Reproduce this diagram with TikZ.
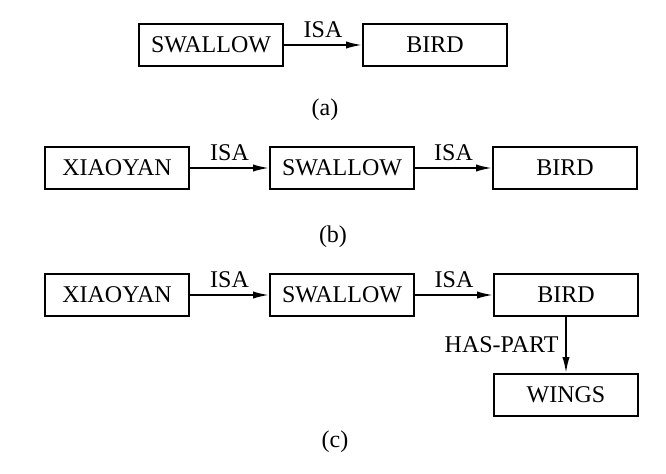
\documentclass[tikz,border=0pt]{standalone}
\usepackage{fontspec}
\setmainfont{Liberation Serif}
\usetikzlibrary{arrows.meta}

\begin{document}
\begin{tikzpicture}[x=0.5pt,y=-0.5pt,font=\fontsize{12}{14}\selectfont,
  box/.style={draw,line width=0.9pt,minimum width=72pt,minimum height=21pt,inner sep=0pt},
  isa/.style={line width=0.9pt,-{Latex[length=8pt,width=3.6pt]}}]
\useasboundingbox (0,0) rectangle (666,473);
% (a)
\node[box] (sa) at (211,45) {SWALLOW};
\node[box] (ba) at (435,45) {BIRD};
\draw[isa] (sa) -- (ba) node[midway,above,inner sep=3pt] {ISA};
\node (la) at (325,110) {(a)};
% (b)
\node[box] (xb) at (117,168) {XIAOYAN};
\node[box] (sb) at (342,168) {SWALLOW};
\node[box] (bb) at (565,168) {BIRD};
\draw[isa] (xb) -- (sb) node[midway,above,inner sep=3pt] {ISA};
\draw[isa] (sb) -- (bb) node[midway,above,inner sep=3pt] {ISA};
\node (lb) at (333,237) {(b)};
% (c)
\node[box] (xc) at (117,295) {XIAOYAN};
\node[box] (sc) at (342,295) {SWALLOW};
\node[box] (bc) at (566,295) {BIRD};
\node[box] (wc) at (566,395) {WINGS};
\draw[isa] (xc) -- (sc) node[midway,above,inner sep=3pt] {ISA};
\draw[isa] (sc) -- (bc) node[midway,above,inner sep=3pt] {ISA};
\draw[isa] (bc) -- (wc) node[midway,left] {HAS-PART};
\node (lc) at (335,442) {(c)};
\end{tikzpicture}
\end{document}
